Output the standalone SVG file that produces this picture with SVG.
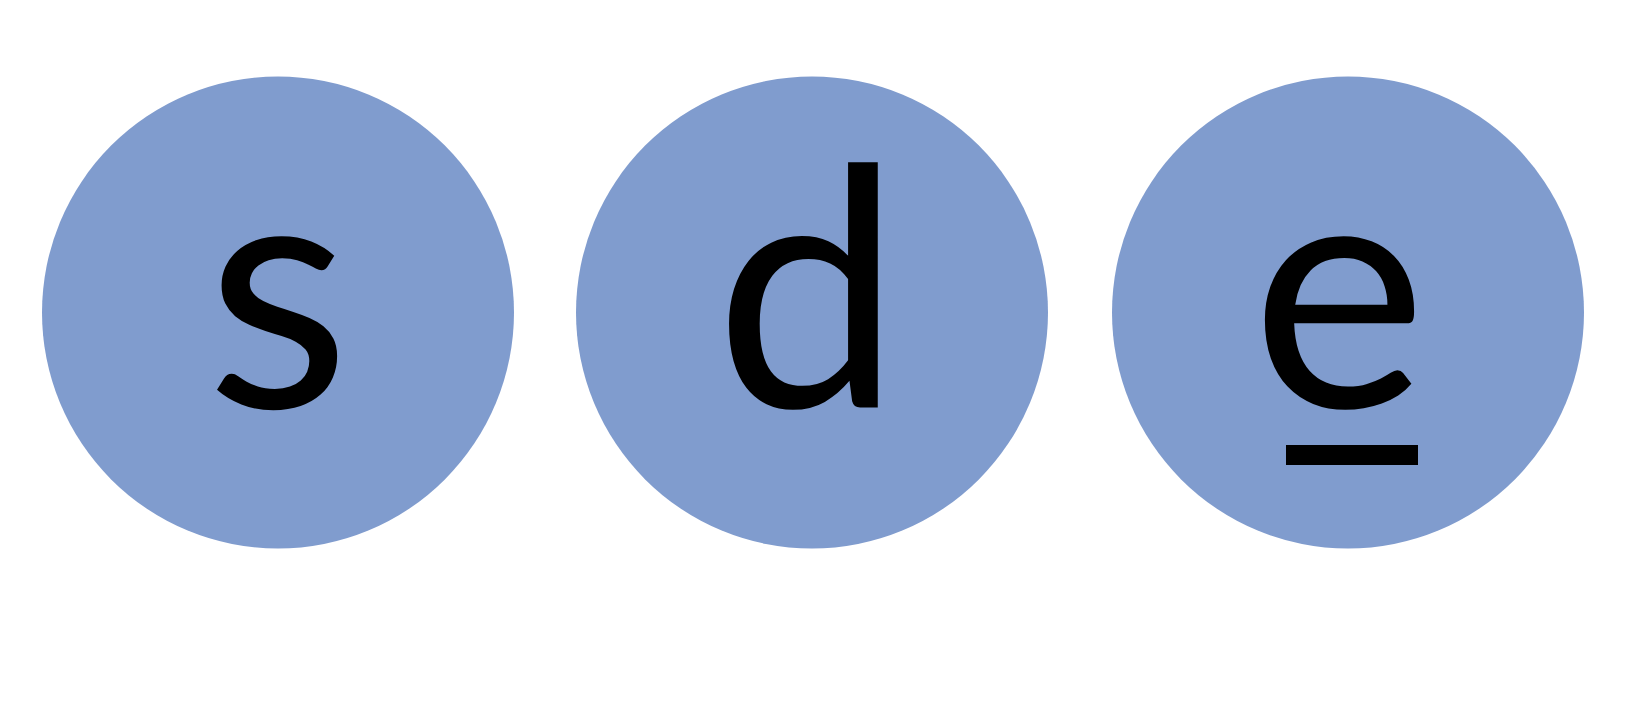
<svg xmlns="http://www.w3.org/2000/svg" width="1629" height="723" viewBox="0 0 1629 723">
<style>
.node circle { fill: #809CCE; }
.node text { font-family: Lato, "Noto Sans", sans-serif; font-size: 333px; fill: #000; text-anchor: middle; }
</style>
<rect width="1629" height="723" fill="#fff"/>
<g id="node-s" class="node">
<circle cx="278" cy="312.5" r="236"/>
<text x="278" y="407.5">s</text>
</g>
<g id="node-d" class="node">
<circle cx="812" cy="312.5" r="236"/>
<text x="808" y="407.5">d</text>
</g>
<g id="node-e" class="node">
<circle cx="1348" cy="312.5" r="236"/>
<text x="1339" y="407.5">e</text>
<rect x="1286" y="445" width="132" height="20" fill="#000"/>
</g>
<g id="connectors"></g>
</svg>
